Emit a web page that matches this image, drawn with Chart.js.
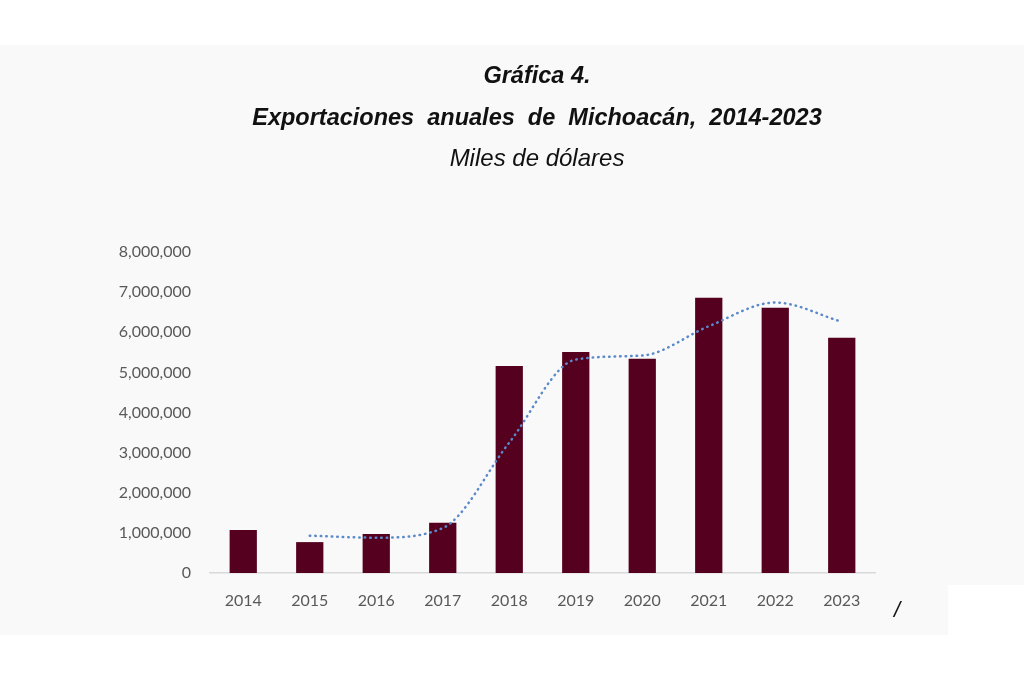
<!DOCTYPE html>
<html>
<head>
<meta charset="utf-8">
<script src="https://cdn.jsdelivr.net/npm/chart.js@4.4.0/dist/chart.umd.min.js"></script>
<style>
  body { margin: 0; background: #fff; }
  #wrap { position: relative; width: 1024px; height: 683px; overflow: hidden; }
  .panel { position: absolute; background: #f9f9f9; }
  #c { position: absolute; left: 0; top: 0; }
  .ttl { position: absolute; left: 0; width: 1074px; text-align: center; white-space: pre; color: #111; font-family: "Liberation Sans"; font-style: italic; line-height: 28px; }
  #slash { position: absolute; left: 894px; top: 597px; font: italic 22px "Liberation Sans"; color: #111; }
</style>
</head>
<body>
<div id="wrap">
  <div class="panel" style="left:0;top:45px;width:1024px;height:540px"></div>
  <div class="panel" style="left:0;top:585px;width:948px;height:50px"></div>
  <canvas id="c" width="1024" height="683"></canvas>
  <div class="ttl" style="top:61px;font-size:23.5px;font-weight:bold">Gráfica 4.</div>
  <div class="ttl" style="top:103px;font-size:23.5px;font-weight:bold">Exportaciones  anuales  de  Michoacán,  2014-2023</div>
  <div class="ttl" style="top:144px;font-size:24px">Miles de dólares</div>
  <div id="slash">/</div>
</div>
<script>
const years = ["2014","2015","2016","2017","2018","2019","2020","2021","2022","2023"];
// exportaciones, miles de dólares
const exportaciones = [1070000, 770000, 970000, 1250000, 5160000, 5510000, 5340000, 6860000, 6610000, 5860000];
// línea de tendencia punteada
const tendencia = [null, 930000, 880000, 1120000, 3250000, 5320000, 5420000, 6150000, 6740000, 6260000];

const tickColor = "#595959";

new Chart("c", {
  data: {
    labels: years,
    datasets: [
      {
        type: "line",
        data: tendencia,
        borderColor: "#5a8acb",
        borderWidth: 2.5,
        borderDash: [0.5, 5],
        borderCapStyle: "round",
        pointRadius: 0,
        cubicInterpolationMode: "monotone",
        fill: false,
        order: 0
      },
      {
        type: "bar",
        data: exportaciones,
        backgroundColor: "#55001e",
        categoryPercentage: 1,
        barPercentage: 0.41,
        order: 1
      }
    ]
  },
  options: {
    responsive: false,
    animation: false,
    layout: { padding: { top: 252, left: 100, right: 149, bottom: 70 } },
    plugins: {
      legend: { display: false },
      tooltip: { enabled: false }
    },
    scales: {
      x: {
        grid: { display: false },
        border: { color: "#d9d9d9", width: 1.5 },
        ticks: { color: tickColor, font: { family: "Lato", size: 16 }, padding: 10 },
        afterFit: s => { s.height = 40; }
      },
      y: {
        min: 0,
        max: 8000000,
        grid: { display: false },
        border: { display: false },
        ticks: {
          stepSize: 1000000,
          color: tickColor,
          font: { family: "Lato", size: 16 },
          padding: 11,
          callback: v => v.toLocaleString("en-US")
        },
        afterFit: s => { s.width = 110; }
      }
    }
  }
});
</script>
</body>
</html>
